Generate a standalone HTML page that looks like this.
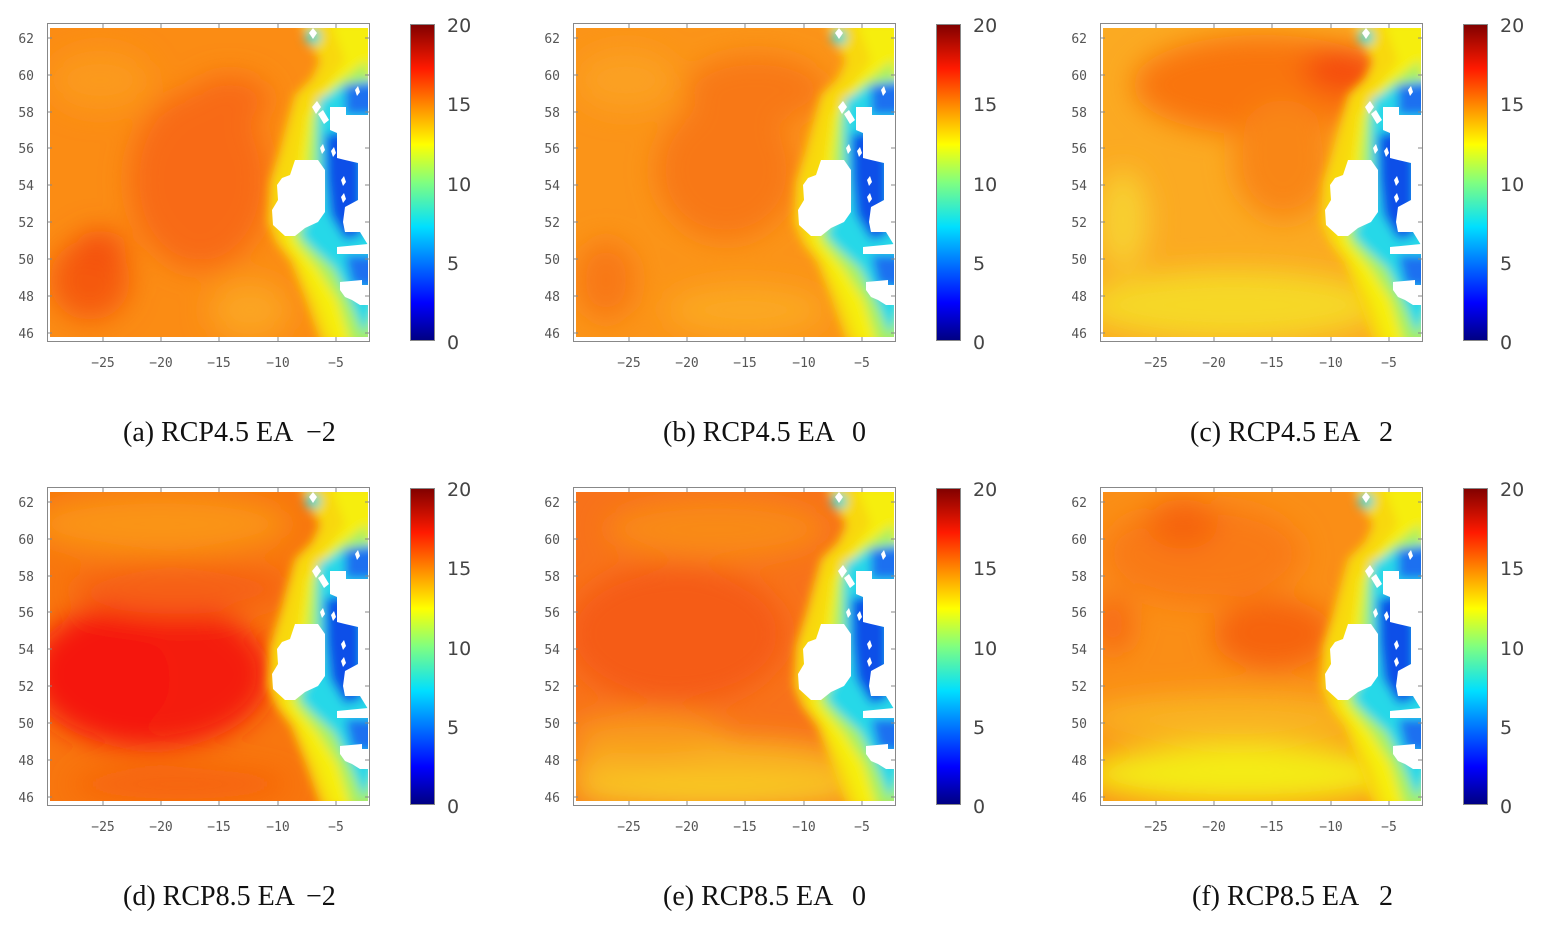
<!DOCTYPE html>
<html><head><meta charset="utf-8"><style>
body{margin:0;background:#fff;width:1542px;height:928px;overflow:hidden}
svg{display:block}
.t{font-family:"DejaVu Sans Mono","Liberation Mono",monospace;font-size:13px;fill:#555}
.cb{font-family:"DejaVu Sans","Liberation Sans",sans-serif;font-size:19px;fill:#444}
.cap{font-family:"Liberation Serif",serif;font-size:28px;fill:#111}
</style></head><body>
<svg width="1542" height="928" viewBox="0 0 1542 928" xmlns="http://www.w3.org/2000/svg">
<defs>
<clipPath id="pc"><rect x="50" y="28" width="318" height="309"/></clipPath>
<filter id="b4" x="-20%" y="-20%" width="140%" height="140%"><feGaussianBlur stdDeviation="5"/></filter>
<filter id="b10" x="-50%" y="-50%" width="200%" height="200%"><feGaussianBlur stdDeviation="14"/></filter>
<linearGradient id="jet" x1="0" y1="1" x2="0" y2="0">
<stop offset="0" stop-color="#00007f"/><stop offset="0.12" stop-color="#0000ff"/><stop offset="0.36" stop-color="#00dfff"/><stop offset="0.5" stop-color="#80ff80"/><stop offset="0.62" stop-color="#ffff00"/><stop offset="0.86" stop-color="#ff1a00"/><stop offset="1" stop-color="#7f0000"/>
</linearGradient>
<g id="coast">
<g clip-path="url(#pc)">
<g filter="url(#b4)">
<polygon fill="#f8d810" points="300,20 380,20 380,345 322,345 306,300 291,262 276,242 268,222 270,182 280,150 288,120 295,95 312,78 320,60 308,42"/>
<polygon fill="#f6ee10" points="330,20 380,20 380,345 335,345 318,300 300,262 285,240 290,200 300,150 306,115 325,88 345,60"/>
<polygon fill="#a8f060" points="335,85 368,60 380,345 352,345 338,300 318,268 298,245 292,232 305,200 308,150 312,115"/>
<polygon fill="#28d8e8" points="318,100 345,85 380,78 380,290 364,335 350,300 334,268 310,246 300,234 318,200 318,150"/>
<circle cx="313" cy="37" r="8" fill="#40d8d0"/>
<polygon fill="#1a70f0" points="345,85 380,82 380,115 345,115"/>
<polygon fill="#1050e8" points="325,135 345,130 362,160 362,235 345,240 330,215 326,180"/>
<polygon fill="#1a70f0" points="345,255 380,255 380,290 352,285"/>
</g>
<polygon fill="#fff" points="313,28 317,33 313,39 309,33"/>
<polygon fill="#fff" points="295,160 318,160 325,170 325,212 318,222 305,228 295,236 285,236 273,225 272,210 278,200 277,185 282,178 290,175"/>
<polygon fill="#fff" points="330,107 346,107 346,115 368,115 368,245 360,232 345,232 343,222 345,207 358,200 358,163 345,160 337,158 337,133 330,130"/>
<polygon fill="#fff" points="337,247 368,244 368,254 337,254"/>
<polygon fill="#fff" points="340,282 362,280 362,285 368,285 368,305 360,305 352,300 345,297 340,290"/>
<polygon fill="#fff" points="312,107 317,101 321,107 316,114"/>
<polygon fill="#fff" points="318,114 323,110 329,120 324,124"/>
<polygon fill="#fff" points="355,90 358,86 360,92 357,96"/>
<polygon fill="#fff" points="320,148 323,144 325,150 322,154"/>
<polygon fill="#fff" points="331,151 334,147 336,153 333,157"/>
<polygon fill="#fff" points="341,180 344,176 346,182 343,186"/>
<polygon fill="#fff" points="341,197 344,193 346,199 343,203"/>
</g>
</g>
<g id="axes">
<rect x="47.5" y="23.5" width="322" height="318" fill="none" stroke="#888" stroke-width="1"/>
<path d="M103,337v4M161,337v4M219,337v4M278,337v4M336,337v4M48,38h4M48,75h4M48,112h4M48,148h4M48,185h4M48,222h4M48,259h4M48,296h4M48,333h4M103,24v4M161,24v4M219,24v4M278,24v4M336,24v4M365,38h4M365,75h4M365,112h4M365,148h4M365,185h4M365,222h4M365,259h4M365,296h4M365,333h4" stroke="#888"/>
<rect x="410" y="24" width="25" height="317" fill="url(#jet)"/>
<rect x="410.5" y="24.5" width="24" height="316" fill="none" stroke="#888"/>
</g>
</defs>

<g transform="translate(0,0)">
<g clip-path="url(#pc)"><rect x="50" y="28" width="318" height="309" fill="#fb8c14"/>
<g filter="url(#b10)" fill="#f86a12"><ellipse cx="200" cy="180" rx="70" ry="90"/><ellipse cx="90" cy="280" rx="40" ry="40" fill="#f55a10"/><ellipse cx="100" cy="250" rx="25" ry="20" fill="#f4500f"/><ellipse cx="230" cy="100" rx="40" ry="25"/><ellipse cx="100" cy="80" rx="50" ry="30" fill="#fb9a1a"/><ellipse cx="250" cy="310" rx="40" ry="30" fill="#fba420"/></g></g>
<use href="#coast"/><use href="#axes"/>
</g>
<g transform="translate(526,0)">
<g clip-path="url(#pc)"><rect x="50" y="28" width="318" height="309" fill="#fb9418"/>
<g filter="url(#b10)" fill="#f87812"><ellipse cx="200" cy="170" rx="70" ry="70"/><ellipse cx="230" cy="90" rx="70" ry="35"/><ellipse cx="80" cy="280" rx="30" ry="40"/><ellipse cx="100" cy="80" rx="50" ry="30" fill="#fba020"/><ellipse cx="220" cy="310" rx="80" ry="25" fill="#fba822"/></g></g>
<use href="#coast"/><use href="#axes"/>
</g>
<g transform="translate(1053,0)">
<g clip-path="url(#pc)"><rect x="50" y="28" width="318" height="309" fill="#fbaa22"/>
<g filter="url(#b10)"><ellipse cx="210" cy="85" rx="130" ry="50" fill="#f97410"/><ellipse cx="290" cy="70" rx="40" ry="22" fill="#f5480e"/><ellipse cx="230" cy="160" rx="50" ry="60" fill="#f98614"/><ellipse cx="180" cy="305" rx="150" ry="35" fill="#f6d828"/><ellipse cx="70" cy="220" rx="25" ry="50" fill="#f8d030"/></g></g>
<use href="#coast"/><use href="#axes"/>
</g>
<g transform="translate(0,464)">
<g clip-path="url(#pc)"><rect x="50" y="28" width="318" height="309" fill="#f8760e"/>
<g filter="url(#b10)"><ellipse cx="150" cy="210" rx="120" ry="75" fill="#f41e08"/><ellipse cx="110" cy="215" rx="60" ry="55" fill="#f51208"/><ellipse cx="160" cy="60" rx="130" ry="30" fill="#fa9414"/><ellipse cx="180" cy="125" rx="110" ry="25" fill="#f66012"/><ellipse cx="180" cy="320" rx="110" ry="15" fill="#f66010"/></g></g>
<use href="#coast"/><use href="#axes"/>
</g>
<g transform="translate(526,464)">
<g clip-path="url(#pc)"><rect x="50" y="28" width="318" height="309" fill="#f8721a"/>
<g filter="url(#b10)"><ellipse cx="150" cy="170" rx="110" ry="70" fill="#f55c12"/><ellipse cx="190" cy="65" rx="110" ry="30" fill="#f98a18"/><ellipse cx="190" cy="305" rx="150" ry="30" fill="#f9b420"/><ellipse cx="190" cy="330" rx="150" ry="14" fill="#f8d028"/><ellipse cx="120" cy="270" rx="80" ry="20" fill="#f99a1a"/></g></g>
<use href="#coast"/><use href="#axes"/>
</g>
<g transform="translate(1053,464)">
<g clip-path="url(#pc)"><rect x="50" y="28" width="318" height="309" fill="#fa8e16"/>
<g filter="url(#b10)"><ellipse cx="150" cy="90" rx="100" ry="50" fill="#f97a12"/><ellipse cx="220" cy="170" rx="60" ry="35" fill="#f6640c"/><ellipse cx="130" cy="60" rx="35" ry="25" fill="#f6640c"/><ellipse cx="60" cy="160" rx="20" ry="30" fill="#f76a12"/><ellipse cx="180" cy="255" rx="150" ry="25" fill="#f9b420"/><ellipse cx="190" cy="310" rx="160" ry="30" fill="#f4ec14"/></g></g>
<use href="#coast"/><use href="#axes"/>
</g>

<g class="t" text-anchor="end">
<text x="34" y="43">62</text><text x="34" y="80">60</text><text x="34" y="117">58</text><text x="34" y="153">56</text><text x="34" y="190">54</text><text x="34" y="227">52</text><text x="34" y="264">50</text><text x="34" y="301">48</text><text x="34" y="338">46</text>
<text x="560" y="43">62</text><text x="560" y="80">60</text><text x="560" y="117">58</text><text x="560" y="153">56</text><text x="560" y="190">54</text><text x="560" y="227">52</text><text x="560" y="264">50</text><text x="560" y="301">48</text><text x="560" y="338">46</text>
<text x="1087" y="43">62</text><text x="1087" y="80">60</text><text x="1087" y="117">58</text><text x="1087" y="153">56</text><text x="1087" y="190">54</text><text x="1087" y="227">52</text><text x="1087" y="264">50</text><text x="1087" y="301">48</text><text x="1087" y="338">46</text>
<text x="34" y="507">62</text><text x="34" y="544">60</text><text x="34" y="581">58</text><text x="34" y="617">56</text><text x="34" y="654">54</text><text x="34" y="691">52</text><text x="34" y="728">50</text><text x="34" y="765">48</text><text x="34" y="802">46</text>
<text x="560" y="507">62</text><text x="560" y="544">60</text><text x="560" y="581">58</text><text x="560" y="617">56</text><text x="560" y="654">54</text><text x="560" y="691">52</text><text x="560" y="728">50</text><text x="560" y="765">48</text><text x="560" y="802">46</text>
<text x="1087" y="507">62</text><text x="1087" y="544">60</text><text x="1087" y="581">58</text><text x="1087" y="617">56</text><text x="1087" y="654">54</text><text x="1087" y="691">52</text><text x="1087" y="728">50</text><text x="1087" y="765">48</text><text x="1087" y="802">46</text>
</g>
<g class="t" text-anchor="middle">
<text x="103" y="367">−25</text><text x="161" y="367">−20</text><text x="219" y="367">−15</text><text x="278" y="367">−10</text><text x="336" y="367">−5</text>
<text x="629" y="367">−25</text><text x="687" y="367">−20</text><text x="745" y="367">−15</text><text x="804" y="367">−10</text><text x="862" y="367">−5</text>
<text x="1156" y="367">−25</text><text x="1214" y="367">−20</text><text x="1272" y="367">−15</text><text x="1331" y="367">−10</text><text x="1389" y="367">−5</text>
<text x="103" y="831">−25</text><text x="161" y="831">−20</text><text x="219" y="831">−15</text><text x="278" y="831">−10</text><text x="336" y="831">−5</text>
<text x="629" y="831">−25</text><text x="687" y="831">−20</text><text x="745" y="831">−15</text><text x="804" y="831">−10</text><text x="862" y="831">−5</text>
<text x="1156" y="831">−25</text><text x="1214" y="831">−20</text><text x="1272" y="831">−15</text><text x="1331" y="831">−10</text><text x="1389" y="831">−5</text>
</g>
<g class="cb">
<text x="447" y="32">20</text><text x="447" y="111">15</text><text x="447" y="191">10</text><text x="447" y="270">5</text><text x="447" y="349">0</text>
<text x="973" y="32">20</text><text x="973" y="111">15</text><text x="973" y="191">10</text><text x="973" y="270">5</text><text x="973" y="349">0</text>
<text x="1500" y="32">20</text><text x="1500" y="111">15</text><text x="1500" y="191">10</text><text x="1500" y="270">5</text><text x="1500" y="349">0</text>
<text x="447" y="496">20</text><text x="447" y="575">15</text><text x="447" y="655">10</text><text x="447" y="734">5</text><text x="447" y="813">0</text>
<text x="973" y="496">20</text><text x="973" y="575">15</text><text x="973" y="655">10</text><text x="973" y="734">5</text><text x="973" y="813">0</text>
<text x="1500" y="496">20</text><text x="1500" y="575">15</text><text x="1500" y="655">10</text><text x="1500" y="734">5</text><text x="1500" y="813">0</text>
</g>
<g class="cap">
<text x="123" y="441">(a) RCP4.5 EA <tspan x="306">−2</tspan></text>
<text x="663" y="441">(b) RCP4.5 EA <tspan x="852">0</tspan></text>
<text x="1190" y="441">(c) RCP4.5 EA <tspan x="1379">2</tspan></text>
<text x="123" y="905">(d) RCP8.5 EA <tspan x="306">−2</tspan></text>
<text x="663" y="905">(e) RCP8.5 EA <tspan x="852">0</tspan></text>
<text x="1192" y="905">(f) RCP8.5 EA <tspan x="1379">2</tspan></text>
</g>
</svg>
</body></html>
